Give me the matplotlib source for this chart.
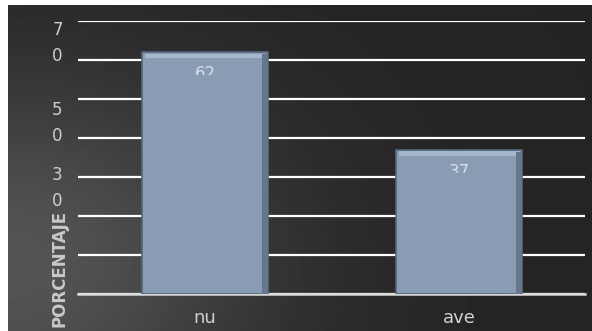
import numpy as np
import matplotlib
matplotlib.use("Agg")
from matplotlib import pyplot as plt
from matplotlib.transforms import Bbox, TransformedBbox

categories = ["nu", "ave"]
values = [62, 37]
value_labels = ["62", "37"]
grid_ticks = [0, 10, 20, 30, 40, 50, 60, 70]
label_ticks = [65.8, 45.4, 28.6]
tick_labels = ["7\n0", "5\n0", "3\n0"]

fig = plt.figure(figsize=(5.92, 3.31), dpi=100, facecolor="white")

# dark background with a lighter glow on the lower left (white strip left/top)
bg = fig.add_axes([8 / 592, 0, 1 - 8 / 592, 1 - 5 / 331], zorder=-10)
xx, yy = np.meshgrid(np.linspace(0, 1, 300), np.linspace(0, 1, 200))
d2 = ((xx - 0.0) / 0.45) ** 2 + ((yy - 0.2) / 0.6) ** 2
shade = 0.14 + 0.19 * np.exp(-d2)
bg.imshow(shade, cmap="gray", vmin=0, vmax=1, origin="lower", aspect="auto",
          extent=[0, 1, 0, 1])
bg.axis("off")

ax = fig.add_axes([0.1318, 0.112, 0.8564, 0.825])
ax.set_facecolor("none")
x = np.arange(len(categories))
bars = ax.bar(x, values, width=0.496, color="#8a9cb4", edgecolor="#55657a",
              linewidth=1.2, zorder=3)
for b in bars:
    # bevel: light top, dark right
    ax.bar(b.get_x() + b.get_width() / 2, 1.2, width=b.get_width() * 0.96,
           bottom=b.get_height() - 1.6, color="#a8b8cc", zorder=4)
    ax.bar(b.get_x() + b.get_width() * 0.975, b.get_height() - 0.6,
           width=b.get_width() * 0.05, color="#66778d", zorder=4)

for xi, v, lab in zip(x, values, value_labels):
    t = ax.text(xi, v - 3.4, lab, ha="center", va="top", fontsize=12,
                color="#d8dde6", zorder=5)
    # label is cut off half way, as in the original
    t.set_clip_box(TransformedBbox(Bbox([[xi - 0.3, v - 5.9], [xi + 0.3, v]]),
                                   ax.transData))
    t.set_clip_on(True)

ax.set_xlim(-0.5, 1.496)
ax.set_ylim(0, 70)
ax.set_yticks(grid_ticks)
ax.set_yticklabels([])
ax.set_yticks(label_ticks, minor=True)
ax.set_yticklabels(tick_labels, minor=True, fontsize=12, color="#d0d0d0",
                   linespacing=1.55)
ax.tick_params(axis="y", which="both", length=0, pad=11)
ax.grid(axis="y", color="white", linewidth=1.6, zorder=1)
ax.set_axisbelow(True)

ax.set_xticks(x)
ax.set_xticklabels(categories, fontsize=13, color="#d0d0d0")
ax.tick_params(axis="x", length=0, pad=11)

for s in ["top", "right", "left"]:
    ax.spines[s].set_visible(False)
ax.spines["bottom"].set_color("#d9d9d9")
ax.spines["bottom"].set_linewidth(1.8)

fig.text(59 / 592, 1 - 268 / 331, "PORCENTAJE", rotation=90, ha="center",
         va="center", fontsize=12, fontweight="bold", color="#c8c8c8")

fig.savefig("out.png", dpi=100, facecolor="white")
